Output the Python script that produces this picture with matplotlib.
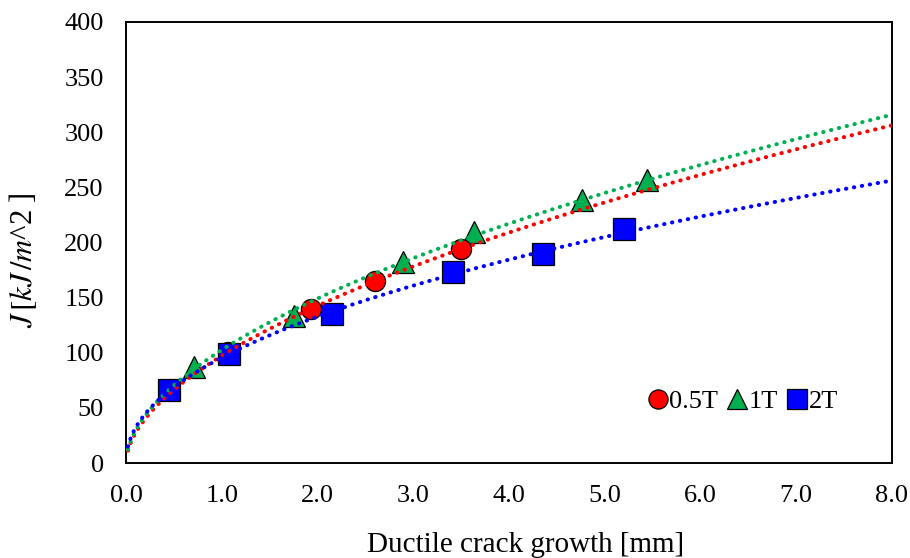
import numpy as np
import matplotlib
matplotlib.use("Agg")
import matplotlib.pyplot as plt

plt.rcParams['font.family'] = ['Liberation Serif', 'DejaVu Serif']
plt.rcParams['mathtext.fontset'] = 'stix'

# Data (crack growth [mm], J [kJ/m^2])
x_05t = [1.07, 1.93, 2.60, 3.50]
j_05t = [101, 140, 165, 194]

x_1t = [0.71, 1.75, 2.89, 3.63, 4.76, 5.44]
j_1t = [87, 133, 182, 210, 239, 257]

x_2t = [0.45, 1.08, 2.15, 3.42, 4.36, 5.20]
j_2t = [66, 99, 135, 173, 190, 212]

x_ticks = [0, 1, 2, 3, 4, 5, 6, 7, 8]
y_ticks = [0, 50, 100, 150, 200, 250, 300, 350, 400]

series = [
    ("0.5T", x_05t, j_05t, "o", "#FF0000", 3),
    ("1T", x_1t, j_1t, "^", "#00B050", 2),
    ("2T", x_2t, j_2t, "s", "#0000FF", 4),
]

fs = 19

fig = plt.figure(figsize=(9.1, 5.58), dpi=100)
ax = fig.add_axes([0.1385, 0.170, 0.8415, 0.7906])

xfit = np.linspace(0.02, 8.0, 400)
for label, xs, ys, mk, col, z in series:
    ax.plot(xs, ys, linestyle="none", marker=mk, markersize=15.5 if mk != "o" else 14.5,
            markerfacecolor=col, markeredgecolor="black", markeredgewidth=0.9,
            label=label, zorder=z)
    # power trendline, like the spreadsheet one
    b, lna = np.polyfit(np.log(xs), np.log(ys), 1)
    ax.plot(xfit, np.exp(lna) * xfit ** b, linestyle=(0, (0.1, 1.9)),
            dash_capstyle="round", linewidth=2.9, color=col, zorder=5)

ax.set_xlim(0, 8)
ax.set_ylim(0, 400)
ax.set_xticks(x_ticks)
ax.set_xticklabels([f"{v:.1f}" for v in x_ticks])
ax.set_yticks(y_ticks)
ax.tick_params(axis="both", length=0, labelsize=fs, colors="black")
ax.tick_params(axis="x", pad=16)
ax.tick_params(axis="y", pad=16)
for s in ax.spines.values():
    s.set_linewidth(1.4)
    s.set_color("black")

ax.set_xlabel("Ductile crack growth [mm]", fontsize=21)
ax.xaxis.set_label_coords(0.522, -0.155)
ax.set_ylabel(r"$J\,[kJ\,/m$^2 ]", fontsize=22)
ax.yaxis.set_label_coords(-0.113, 0.46)

ax.legend(loc="center", bbox_to_anchor=(0.805, 0.14), ncol=3, frameon=False,
          fontsize=fs, handlelength=0.8, handletextpad=0.05,
          columnspacing=0.3, markerscale=0.95)

fig.savefig("out.png", dpi=100)
